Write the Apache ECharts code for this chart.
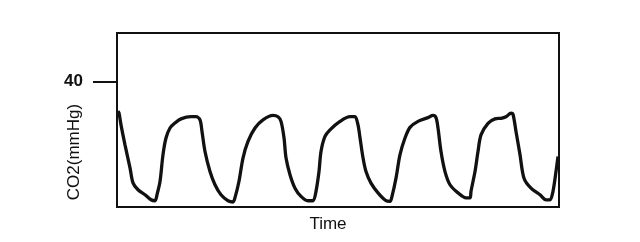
<!DOCTYPE html>
<html>
<head>
<meta charset="utf-8">
<script src="https://cdn.jsdelivr.net/npm/echarts@6/dist/echarts.min.js"></script>
<style>
html,body{margin:0;padding:0;background:#fff;}
#chart{width:640px;height:242px;}
</style>
</head>
<body>
<div id="chart"></div>
<script>
// Time (arbitrary units) and CO2 (mmHg)
const timeValues = [0.0,0.1,0.3,0.7,1.2,1.5,2.0,2.7,3.3,3.7,3.9,4.2,4.5,4.8,5.2,5.7,6.3,7.3,7.8,8.2,8.4,8.7,9.2,9.7,10.3,11.0,11.5,11.7,12.1,12.5,13.0,13.7,14.5,15.5,16.0,16.3,16.6,16.8,17.2,17.7,18.3,19.0,19.5,19.8,20.1,20.3,20.7,21.2,22.2,23.2,23.7,24.0,24.2,24.5,24.8,25.3,26.0,26.8,27.2,27.4,27.8,28.2,28.7,29.2,30.0,31.0,31.5,31.8,32.0,32.3,32.7,33.2,34.0,34.8,35.2,35.3,35.7,36.0,36.3,37.0,37.7,38.3,38.8,39.3,39.5,39.8,40.2,40.6,41.3,42.2,42.8,43.2,43.5,43.8,44.0];
const co2Values = [30.6,30.0,26.2,19.8,12.5,7.7,5.5,3.9,2.3,2.0,3.9,8.1,16.7,22.0,25.2,26.8,28.1,28.8,28.8,27.8,24.1,17.7,11.3,7.1,3.9,2.0,1.6,3.0,8.2,15.6,20.9,25.2,27.8,29.2,28.8,27.3,22.1,15.7,10.3,6.0,3.4,2.0,2.0,5.0,11.3,17.7,22.5,24.6,27.3,28.8,28.8,26.2,22.1,15.7,11.3,7.6,4.5,2.0,1.8,3.4,9.2,16.7,22.0,25.4,27.3,28.5,29.2,28.5,25.2,17.7,11.3,7.1,4.5,2.9,2.9,5.0,11.3,17.7,23.0,26.7,28.1,28.3,28.8,29.9,29.6,24.1,16.7,9.2,6.0,3.9,2.3,2.3,5.0,11.3,16.1];
const yTickValues = [40];
const yAxisTitle = 'CO2(mmHg)';
const xAxisTitle = 'Time';

const seriesData = timeValues.map((t, i) => [t, co2Values[i]]);
const fontFamily = 'Liberation Sans, Arial, Helvetica, sans-serif';

const chart = echarts.init(document.getElementById('chart'), null, {renderer: 'canvas'});
chart.setOption({
  animation: false,
  backgroundColor: '#ffffff',
  grid: {
    left: 117, right: 81, top: 33, bottom: 35,
    show: true, borderColor: '#111', borderWidth: 2, backgroundColor: 'transparent'
  },
  xAxis: {
    type: 'value',
    min: -0.1, max: 44.1,
    name: xAxisTitle,
    nameLocation: 'middle',
    nameGap: 9,
    nameMoveOverlap: false,
    nameTextStyle: {color: '#111', fontSize: 17, fontFamily: fontFamily, verticalAlign: 'top', padding: [0, 20, 0, 0]},
    axisLine: {show: false},
    axisTick: {show: false},
    axisLabel: {show: false},
    splitLine: {show: false}
  },
  yAxis: {
    type: 'value',
    min: 0, max: 55.5,
    name: yAxisTitle,
    nameLocation: 'middle',
    nameGap: 34,
    nameMoveOverlap: false,
    nameTextStyle: {color: '#111', fontSize: 17, fontFamily: fontFamily, padding: [0, 64, 0, 0]},
    axisLine: {show: false},
    axisTick: {show: true, inside: false, length: 25, customValues: yTickValues, lineStyle: {color: '#111', width: 2}},
    axisLabel: {show: true, customValues: yTickValues, margin: 34, color: '#111', fontSize: 17, fontWeight: 'bold', fontFamily: fontFamily},
    splitLine: {show: false}
  },
  series: [{
    type: 'line',
    data: seriesData,
    showSymbol: false,
    smooth: 0.3,
    lineStyle: {color: '#111', width: 3.3},
    clip: true
  }]
});
</script>
</body>
</html>
